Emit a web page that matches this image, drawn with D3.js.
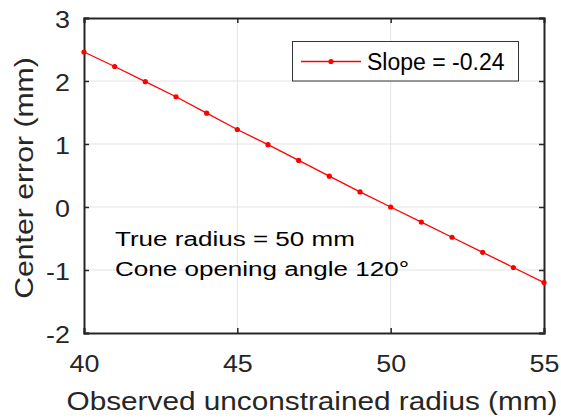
<!DOCTYPE html>
<html>
<head>
<meta charset="utf-8">
<script src="https://cdn.jsdelivr.net/npm/d3@7"></script>
<style>
  html, body { margin: 0; padding: 0; background: #fff; }
  svg { display: block; font-family: "Liberation Sans", Arial, sans-serif; }
</style>
</head>
<body>
<svg id="chart" width="561" height="418"></svg>
<script>
// Observed radius (mm) and resulting center error (mm)
const radius = [40, 41, 42, 43, 44, 45, 46, 47, 48, 49, 50, 51, 52, 53, 54, 55];
const centerError = [2.46, 2.23, 1.99, 1.75, 1.49, 1.23, 0.99, 0.74, 0.49, 0.24, 0, -0.24, -0.48, -0.72, -0.96, -1.2];
const xTicks = [40, 45, 50, 55];
const yTicks = [-2, -1, 0, 1, 2, 3];
const legendLabel = "Slope = -0.24";
const notes = ["True radius = 50 mm", "Cone opening angle 120\u00B0"];

const svg = d3.select("#chart");
const plotL = 84, plotR = 544, plotT = 18, plotB = 333;
const axisColor = "#262626";

const x = d3.scaleLinear().domain([40, 55]).range([plotL, plotR]);
const y = d3.scaleLinear().domain([-2, 3]).range([plotB, plotT]);

// grid
const grid = svg.append("g").attr("stroke", "#e3e3e3").attr("stroke-width", 1);
grid.selectAll("line.gx").data(xTicks.slice(1, -1)).join("line")
  .attr("x1", d => x(d)).attr("x2", d => x(d))
  .attr("y1", plotT).attr("y2", plotB);
grid.selectAll("line.gy").data(yTicks.slice(1, -1)).join("line")
  .attr("x1", plotL).attr("x2", plotR)
  .attr("y1", d => y(d)).attr("y2", d => y(d));

// axes with inward ticks on all four sides
const tickLen = 5;
const tickFont = 24, tickStretch = 1.12;
const fmt = d => String(d);
const xAxisB = svg.append("g").attr("transform", `translate(0,${plotB})`)
  .call(d3.axisBottom(x).tickValues(xTicks).tickSize(-tickLen).tickPadding(22).tickFormat(fmt));
const xAxisT = svg.append("g").attr("transform", `translate(0,${plotT})`)
  .call(d3.axisTop(x).tickValues(xTicks).tickSize(-tickLen).tickFormat(""));
const yAxisL = svg.append("g").attr("transform", `translate(${plotL},0)`)
  .call(d3.axisLeft(y).tickValues(yTicks).tickSize(-tickLen).tickPadding(14).tickFormat(fmt));
const yAxisR = svg.append("g").attr("transform", `translate(${plotR},0)`)
  .call(d3.axisRight(y).tickValues(yTicks).tickSize(-tickLen).tickFormat(""));

[xAxisB, xAxisT, yAxisL, yAxisR].forEach(g => {
  g.select(".domain").attr("stroke", axisColor).attr("stroke-width", 2);
  g.selectAll(".tick line").attr("stroke", axisColor).attr("stroke-width", 1.5);
  g.selectAll(".tick text").attr("fill", axisColor)
    .style("font-size", tickFont + "px").style("font-family", "Liberation Sans, Arial, sans-serif")
    .attr("transform", `scale(${tickStretch},1)`);
});
yAxisL.selectAll(".tick text").attr("x", -14 / tickStretch).attr("dy", "0.38em");

// data line and markers
const pts = radius.map((r, i) => [r, centerError[i]]);
svg.append("path")
  .datum(pts)
  .attr("fill", "none").attr("stroke", "#ff0000").attr("stroke-width", 1.3)
  .attr("d", d3.line().x(d => x(d[0])).y(d => y(d[1])));
svg.append("g").selectAll("circle")
  .data(pts)
  .join("circle")
  .attr("cx", d => x(d[0])).attr("cy", d => y(d[1])).attr("r", 2.6)
  .attr("fill", "#ff0000");

// legend
const lg = svg.append("g");
lg.append("rect").attr("x", 292.5).attr("y", 41.5).attr("width", 226).attr("height", 39.5)
  .attr("fill", "#fff").attr("stroke", "#333").attr("stroke-width", 1);
lg.append("line").attr("x1", 301).attr("x2", 361).attr("y1", 61.5).attr("y2", 61.5)
  .attr("stroke", "#ff0000").attr("stroke-width", 1.3);
lg.append("circle").attr("cx", 331).attr("cy", 61.5).attr("r", 2.6).attr("fill", "#ff0000");
lg.append("text").attr("x", 367).attr("y", 69.5).attr("fill", "#000")
  .style("font-size", "23px").text(legendLabel);

// annotation
svg.append("g").selectAll("text").data(notes).join("text")
  .attr("transform", (d, i) => `translate(115,${246 + i * 29.7}) scale(1.24,1)`)
  .attr("fill", "#000").style("font-size", "21px").text(d => d);

// axis titles
svg.append("text").attr("transform", "translate(312,410) scale(1.19,1)")
  .attr("text-anchor", "middle").attr("fill", axisColor)
  .style("font-size", "25px").text("Observed unconstrained radius (mm)");
svg.append("text").attr("transform", "translate(33,178) rotate(-90) scale(1.14,1)")
  .attr("text-anchor", "middle").attr("fill", axisColor)
  .style("font-size", "26.5px").text("Center error (mm)");
</script>
</body>
</html>
